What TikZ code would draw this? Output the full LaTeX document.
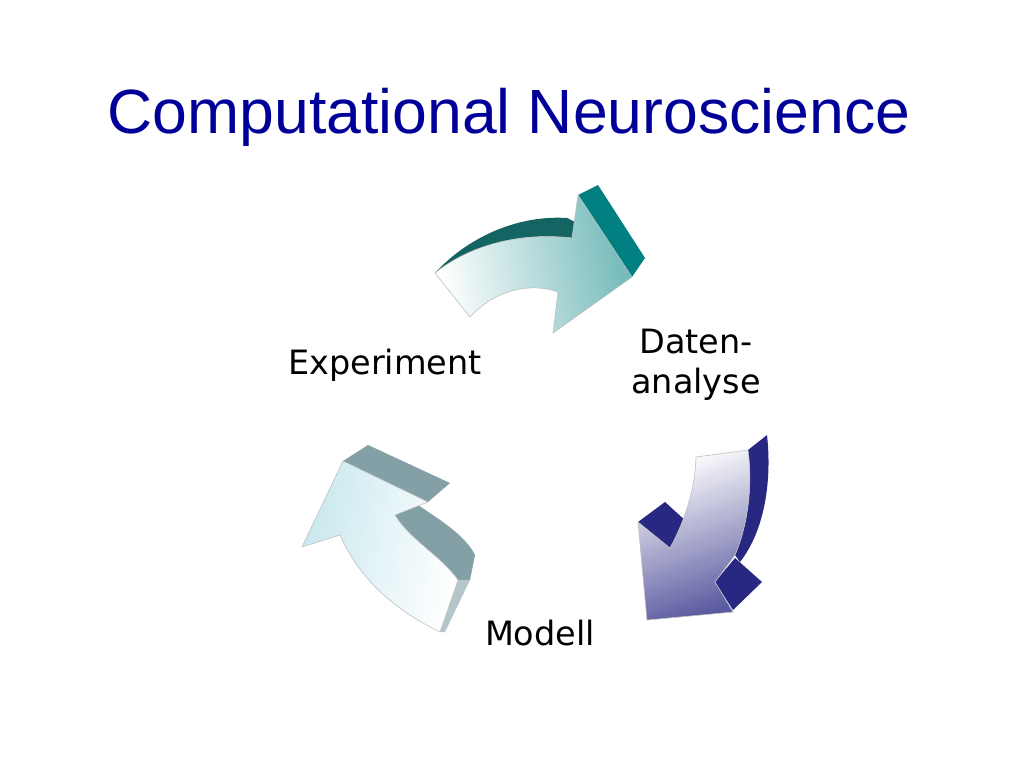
\documentclass[tikz,border=0pt]{standalone}
\usepackage{fontspec}
\setmainfont{Liberation Sans}
\newfontfamily\lbl{DejaVu Sans}
\definecolor{titleblue}{RGB}{0,0,153}
\definecolor{teal1}{RGB}{0,128,128}
\definecolor{teal2}{RGB}{20,100,100}
\definecolor{navy1}{RGB}{40,40,130}
\definecolor{navyf}{RGB}{90,90,160}
\definecolor{cyanf}{RGB}{200,232,238}
\definecolor{greyc}{RGB}{130,160,165}
\begin{document}
\begin{tikzpicture}[x=1pt,y=-1pt,
  lab/.style={font=\lbl\fontsize{33.5}{40}\selectfont, align=center, text=black},
  edge/.style={draw=black!25, line width=0.6pt}]
\useasboundingbox (0,0) rectangle (1024,768);
\node[font=\fontsize{62.5}{74}\selectfont, text=titleblue] (title) at (509,117) {Computational Neuroscience};
% top arrow
\fill[teal2] (435,273) .. controls (470,235) and (520,215) .. (567,218) -- (575,222) -- (572,238) .. controls (520,232) and (470,245) .. (435,273) -- cycle;
\fill[teal1] (578,195) -- (598,185) -- (645,258) -- (632,277) -- cycle;
\shade[left color=white, right color=teal1!55, shading angle=100, edge]
  (435,273) .. controls (470,245) and (520,232) .. (572,238) -- (578,195) -- (632,277) -- (553,333) -- (558,292)
  .. controls (530,282) and (495,290) .. (470,317) -- cycle;
% right arrow
\fill[navy1] (748,450) -- (767,435) .. controls (772,480) and (765,530) .. (740,562) -- (735,555) .. controls (750,520) and (752,480) .. (748,450) -- cycle;
\fill[navy1] (638,522) -- (665,502) -- (687,522) -- (670,548) -- cycle;
\fill[navy1] (715,582) -- (735,558) -- (762,582) -- (733,610) -- cycle;
\shade[top color=white, bottom color=navyf, shading angle=20, edge]
  (696,457) -- (748,450) .. controls (752,480) and (750,520) .. (735,555) -- (715,582) -- (733,612) -- (647,620) -- (638,522) -- (670,548)
  .. controls (685,520) and (695,490) .. (696,457) -- cycle;
% left arrow
\fill[greyc] (343,461) -- (368,445) -- (450,483) -- (428,502) -- cycle;
\fill[greyc] (395,515) -- (418,505) .. controls (440,520) and (465,535) .. (475,555) -- (470,580) -- (458,580) .. controls (440,555) and (410,540) .. (395,515) -- cycle;
\fill[greyc!60] (458,580) -- (470,580) -- (445,632) -- (440,632) -- cycle;
\shade[left color=cyanf, right color=white, shading angle=80, edge]
  (343,461) -- (428,502) -- (395,515) .. controls (410,540) and (440,555) .. (458,580) -- (440,632)
  .. controls (395,610) and (360,580) .. (340,535) -- (302,547) -- cycle;
\node[lab] (exp) at (385,365) {Experiment};
\node[lab] (dat) at (696,365) {Daten-\\analyse};
\node[lab] (mod) at (540,633) {Modell};
\end{tikzpicture}
\end{document}
